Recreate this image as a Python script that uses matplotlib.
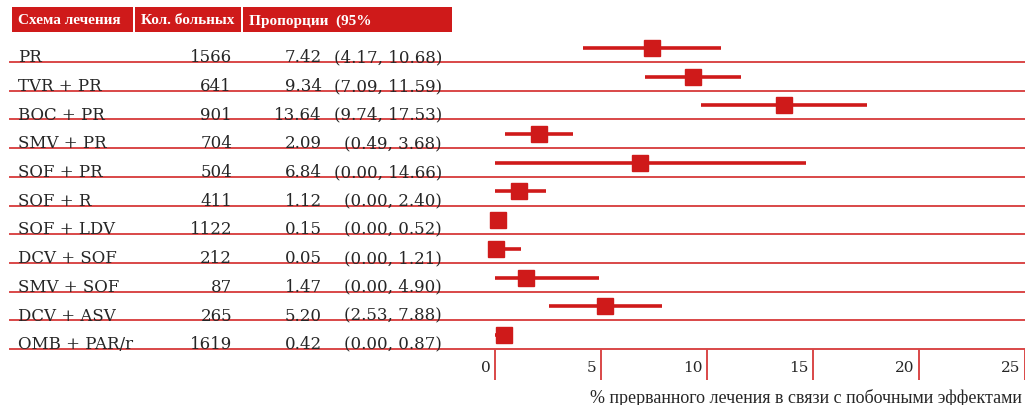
import matplotlib
matplotlib.use("Agg")
import matplotlib.pyplot as plt
from matplotlib.patches import Rectangle

# forest plot data: discontinuation due to adverse events
regimens = ["PR", "TVR + PR", "BOC + PR", "SMV + PR", "SOF + PR", "SOF + R",
            "SOF + LDV", "DCV + SOF", "SMV + SOF", "DCV + ASV", "OMB + PAR/r"]
patients = [1566, 641, 901, 704, 504, 411, 1122, 212, 87, 265, 1619]
prop = [7.42, 9.34, 13.64, 2.09, 6.84, 1.12, 0.15, 0.05, 1.47, 5.20, 0.42]
ci_low = [4.17, 7.09, 9.74, 0.49, 0.00, 0.00, 0.00, 0.00, 0.00, 2.53, 0.00]
ci_high = [10.68, 11.59, 17.53, 3.68, 14.66, 2.40, 0.52, 1.21, 4.90, 7.88, 0.87]
xticks = [0, 5, 10, 15, 20, 25]
headers = ["Схема лечения", "Кол. больных", "Пропорции  (95%"]
xlabel = "% прерванного лечения в связи с побочными эффектами"

RED = "#cf1a1a"
LINE = "#d94848"
TXT = "#262626"
SERIF = ["Liberation Serif", "DejaVu Serif"]
BODY = ["DejaVu Serif"]

W, H = 1025, 406
fig = plt.figure(figsize=(W / 100, H / 100), dpi=100)
ax = fig.add_axes([0, 0, 1, 1])
ax.set_xlim(-495 / 21.2, (W - 495) / 21.2)
ax.set_ylim((H - 49) / 28.7, -49 / 28.7)
ax.axis("off")

def fx(px):
    return px / W

tr = ax.get_yaxis_transform()  # x in axes fraction, y in data rows
n = len(regimens)

# header boxes
for (x0, x1), label in zip([(12, 133), (135, 241), (243, 452)], headers):
    ax.add_patch(Rectangle((fx(x0), 1 - 33 / H), fx(x1 - x0), 25 / H,
                           transform=ax.transAxes, color=RED, lw=0))
    ax.text(fx(x0 + 6), 1 - 21 / H, label, transform=ax.transAxes,
            color="white", fontsize=11, fontweight="bold", family=SERIF,
            va="center", ha="left")

for i in range(n):
    base = i + 0.49
    ax.axhline(base, xmin=fx(10), xmax=1, color=LINE, lw=1.4, zorder=1)
    ax.text(fx(18), base - 0.03, regimens[i], transform=tr, ha="left",
            va="baseline", fontsize=12, family=BODY, color=TXT)
    ax.text(fx(232), base - 0.03, f"{patients[i]}", transform=tr, ha="right",
            va="baseline", fontsize=12, family=BODY, color=TXT)
    ax.text(fx(322), base - 0.03, f"{prop[i]:.2f}", transform=tr, ha="right",
            va="baseline", fontsize=12, family=BODY, color=TXT)
    ax.text(fx(442), base - 0.03, f"({ci_low[i]:.2f}, {ci_high[i]:.2f})",
            transform=tr, ha="right", va="baseline", fontsize=12,
            family=BODY, color=TXT)

# confidence intervals and point estimates
rows = list(range(n))
ax.hlines(rows, ci_low, ci_high, color=RED, lw=2.6, zorder=3)
ax.plot(prop, rows, "s", color=RED, markersize=12, zorder=4, clip_on=False)

# x axis ticks drawn below the last row
tick_top = n - 1 + 0.49
ax.vlines(xticks, tick_top, tick_top + 1.08, color=LINE, lw=1.4)
for t in xticks:
    ax.text(t - 0.2, tick_top + 0.62, str(t), ha="right", va="center",
            fontsize=11, family=BODY, color=TXT)

ax.text(fx(1022), 1 - 398 / H, xlabel, transform=ax.transAxes, ha="right",
        va="center", fontsize=13, family=SERIF, color=TXT)

fig.savefig("out.png", dpi=100)
